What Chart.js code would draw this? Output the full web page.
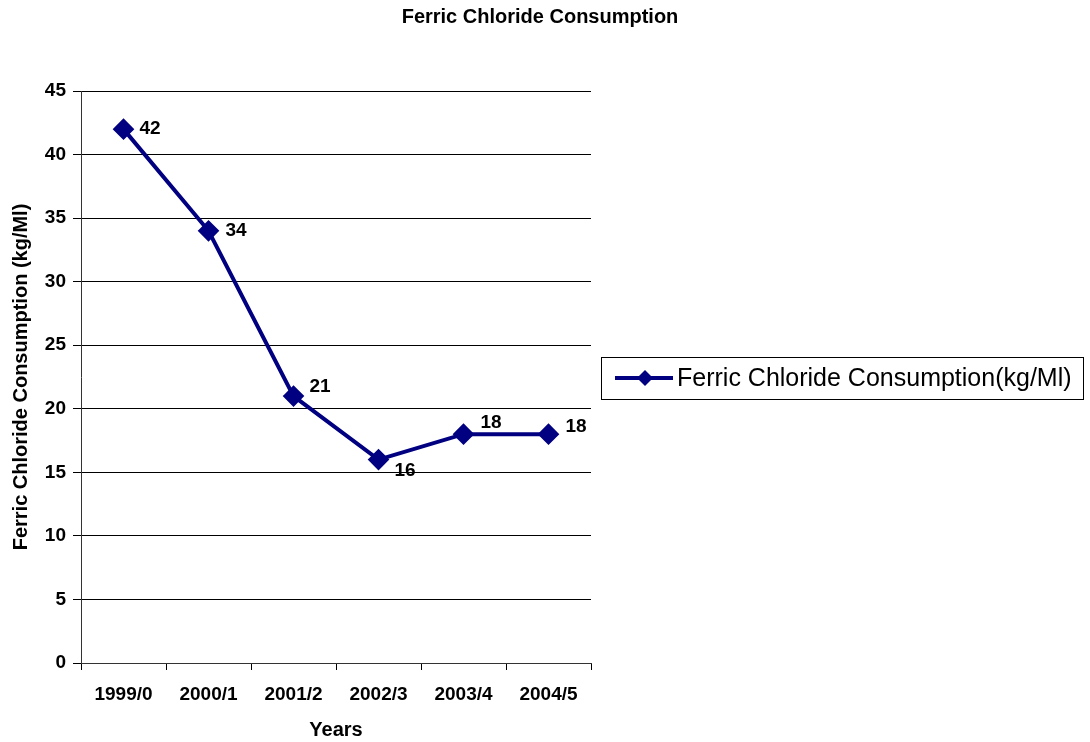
<!DOCTYPE html>
<html>
<head>
<meta charset="utf-8">
<script src="https://cdn.jsdelivr.net/npm/chart.js@4.4.1/dist/chart.umd.min.js"></script>
<style>
  html, body { margin: 0; padding: 0; background: #fff; }
  #wrap { width: 1090px; height: 742px; }
</style>
</head>
<body>
<div id="wrap"><canvas id="fcChart" width="1090" height="742"></canvas></div>
<script>
// 数据
const years = ['1999/0', '2000/1', '2001/2', '2002/3', '2003/4', '2004/5'];
const consumption = [42, 34, 21, 16, 18, 18];
const yTicks = [0, 5, 10, 15, 20, 25, 30, 35, 40, 45];
const seriesName = 'Ferric Chloride Consumption(kg/Ml)';
const chartTitle = 'Ferric Chloride Consumption';

const navy = '#000080';
const font = "'Liberation Sans', Arial, sans-serif";

// 数据标签偏移
const labelOffsets = [[16, 0], [17, 0], [16, -9], [16, 11], [17, -11], [17, -7]];

const decorPlugin = {
    id: 'decor',
    afterDatasetsDraw(chart) {
        const ctx = chart.ctx;
        const meta = chart.getDatasetMeta(0);
        ctx.save();
        ctx.fillStyle = '#000';
        ctx.font = 'bold 19px ' + font;
        ctx.textAlign = 'left';
        ctx.textBaseline = 'middle';
        meta.data.forEach((pt, i) => {
            const off = labelOffsets[i];
            ctx.fillText(String(consumption[i]), pt.x + off[0], pt.y + off[1]);
        });

        // 标题
        ctx.font = 'bold 20px ' + font;
        ctx.textAlign = 'center';
        ctx.fillText(chartTitle, 540, 17);

        // 图例
        const bx = 601, by = 357, bw = 482, bh = 42;
        ctx.strokeStyle = '#000';
        ctx.lineWidth = 1;
        ctx.strokeRect(bx + 0.5, by + 0.5, bw, bh);
        const cy = by + bh / 2;
        ctx.strokeStyle = navy;
        ctx.lineWidth = 4;
        ctx.beginPath();
        ctx.moveTo(615, cy);
        ctx.lineTo(673, cy);
        ctx.stroke();
        ctx.fillStyle = navy;
        ctx.beginPath();
        ctx.moveTo(645, cy - 8);
        ctx.lineTo(653, cy);
        ctx.lineTo(645, cy + 8);
        ctx.lineTo(637, cy);
        ctx.closePath();
        ctx.fill();
        ctx.fillStyle = '#000';
        ctx.font = '25px ' + font;
        ctx.textAlign = 'left';
        ctx.fillText(seriesName, 677, cy + 1);
        ctx.restore();
    }
};

new Chart(document.getElementById('fcChart'), {
    type: 'line',
    data: {
        labels: years,
        datasets: [{
            label: seriesName,
            data: consumption,
            borderColor: navy,
            backgroundColor: navy,
            borderWidth: 4,
            pointStyle: 'rectRot',
            pointRadius: 8,
            pointHoverRadius: 8,
            tension: 0
        }]
    },
    options: {
        responsive: false,
        animation: false,
        layout: {
            padding: { top: 91, right: 499, bottom: 0, left: 0 }
        },
        plugins: {
            legend: { display: false },
            title: { display: false },
            tooltip: { enabled: false }
        },
        scales: {
            x: {
                offset: true,
                afterFit(scale) { scale.height = 79; },
                grid: {
                    offset: true,
                    drawOnChartArea: false,
                    drawTicks: true,
                    tickLength: 7,
                    color: '#000'
                },
                border: { display: true, color: '#333', width: 1 },
                ticks: {
                    color: '#000',
                    font: { family: font, size: 19, weight: 'bold' },
                    padding: 13,
                    maxRotation: 0
                },
                title: {
                    display: true,
                    text: 'Years',
                    color: '#000',
                    font: { family: font, size: 20, weight: 'bold' },
                    padding: { top: 0, bottom: 0 }
                }
            },
            y: {
                min: 0,
                max: 45,
                afterFit(scale) { scale.width = 81; },
                afterBuildTicks(scale) { scale.ticks = yTicks.map(v => ({ value: v })); },
                grid: {
                    color: '#000',
                    lineWidth: 1,
                    drawTicks: true,
                    tickLength: 8
                },
                border: { display: true, color: '#333', width: 1 },
                ticks: {
                    color: '#000',
                    font: { family: font, size: 19, weight: 'bold' },
                    padding: 7
                },
                title: {
                    display: true,
                    text: 'Ferric Chloride Consumption (kg/Ml)',
                    color: '#000',
                    font: { family: font, size: 20, weight: 'bold' },
                    padding: { top: 9, bottom: 0 }
                }
            }
        }
    },
    plugins: [decorPlugin]
});
</script>
</body>
</html>
